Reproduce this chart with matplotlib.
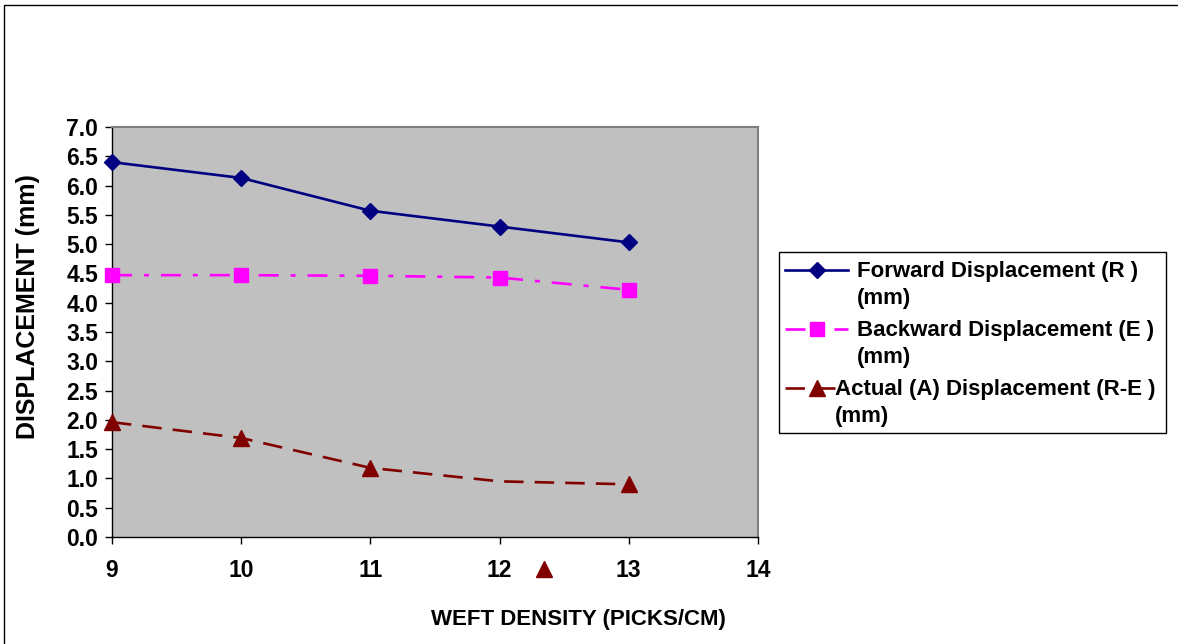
import numpy as np
import matplotlib
matplotlib.use("Agg")
import matplotlib.pyplot as plt
from matplotlib.patches import Rectangle
from matplotlib.lines import Line2D

plt.rcParams['font.family'] = ['Liberation Sans', 'DejaVu Sans']
plt.rcParams['font.weight'] = 'bold'
plt.rcParams['lines.scale_dashes'] = False

# data
weft_density = [9, 10, 11, 12, 13]
forward = [6.40, 6.13, 5.57, 5.30, 5.03]
backward = [4.47, 4.47, 4.46, 4.43, 4.22]
actual = [1.96, 1.69, 1.18, 0.95, 0.90]
# the marker of the 4th actual point is drawn off its line, below the axis
actual_stray_x = [12.34]
actual_stray_y = [-0.55]

labels = ["Forward Displacement (R )\n(mm)",
          "Backward Displacement (E )\n(mm)",
          "Actual (A) Displacement (R-E )\n(mm)"]

W, H = 1178, 644


def px(x, y):
    # figure pixel position -> figure fraction
    return x / W, 1 - y / H


fig = plt.figure(figsize=(W / 100, H / 100), dpi=100)
ax = fig.add_axes([112 / W, 1 - 537 / H, 646 / W, 410 / H])
ax.set_facecolor('#C0C0C0')

styles = [
    dict(color='#000080', lw=1.9, marker='D', ms=8),
    dict(color='#FF00FF', lw=1.9, marker='s', ms=10.5,
         dashes=(14.4, 8.6, 3.6, 8.6)),
    dict(color='#800000', lw=1.9, marker='^', ms=11.5, dashes=(14, 8)),
]

ax.plot(weft_density, forward, clip_on=False, zorder=3, **styles[0])
ax.plot(weft_density, backward, clip_on=False, zorder=3, **styles[1])
ax.plot(weft_density, actual, markevery=[0, 1, 2, 4], clip_on=False,
        zorder=3, **styles[2])
ax.plot(actual_stray_x, actual_stray_y, color='#800000', marker='^', ms=11.5,
        ls='none', clip_on=False, zorder=3)

ax.set_xlim(9, 14)
ax.set_ylim(0, 7)
ax.set_xticks(range(9, 15))
yt = np.arange(0, 7.01, 0.5)
ax.set_yticks(yt)
ax.set_yticklabels([f"{v:.1f}" for v in yt])
ax.tick_params(axis='both', labelsize=16.5, direction='out', length=5,
               width=1, color='black')
ax.tick_params(axis='x', pad=11)
ax.tick_params(axis='y', pad=5)
for s in ['top', 'right']:
    ax.spines[s].set_color('#808080')
    ax.spines[s].set_linewidth(1.5)
for s in ['left', 'bottom']:
    ax.spines[s].set_color('black')
    ax.spines[s].set_linewidth(1)

fig.text(*px(28, 307), "DISPLACEMENT (mm)", rotation=90,
         ha='center', va='center', fontsize=18, fontweight='bold')
fig.text(*px(578, 620), "WEFT DENSITY (PICKS/CM)",
         ha='center', va='center', fontsize=16, fontweight='bold')

# legend box drawn by hand: handles sit on the first line of each label
x0, y0 = px(779, 433)
x1, y1 = px(1166, 252)
fig.patches.append(Rectangle((x0, y0), x1 - x0, y1 - y0,
                             transform=fig.transFigure, facecolor='white',
                             edgecolor='black', lw=1))
entry_y = [270, 329, 388]
text_x = [857, 857, 835]
for st, lab, ey, tx in zip(styles, labels, entry_y, text_x):
    xa, ya = px(785, ey)
    xb, _ = px(848, ey)
    fig.add_artist(Line2D([xa, xb], [ya, ya], transform=fig.transFigure,
                          markevery=[], **st))
    fig.add_artist(Line2D([(xa + xb) / 2], [ya], transform=fig.transFigure,
                          color=st['color'], marker=st['marker'],
                          ms=st['ms'], ls='none'))
    fig.text(*px(tx, ey - 9), lab, ha='left', va='top', fontsize=16,
             fontweight='bold', linespacing=1.38)

# outer chart border (left and top visible)
fig.patches.append(Rectangle((4 / W, -0.1), 1.2, 1.1 - 5 / H,
                             transform=fig.transFigure, fill=False,
                             edgecolor='black', lw=1))

fig.savefig("out.png", dpi=100)
